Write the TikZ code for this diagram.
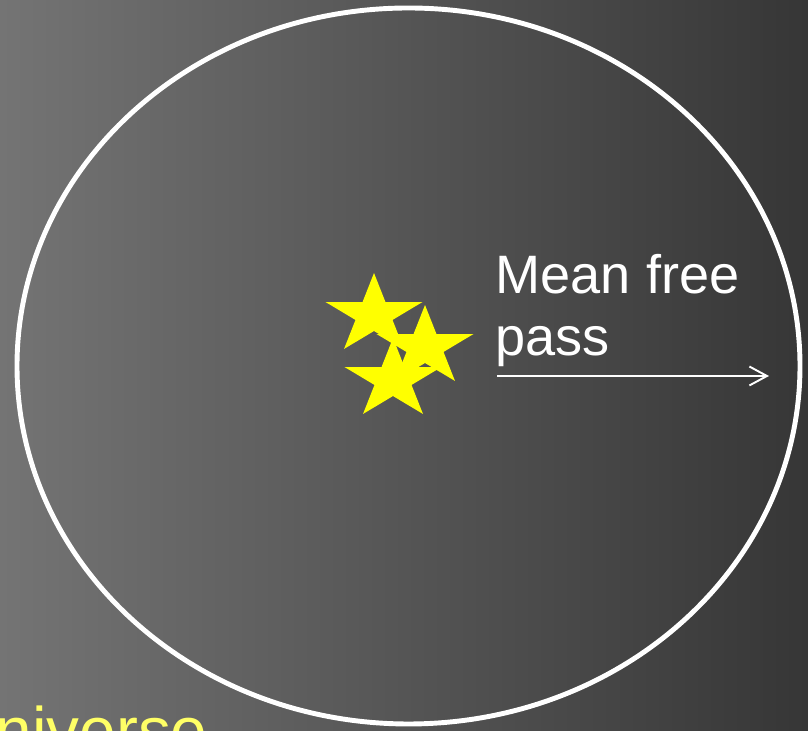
\documentclass[tikz,border=0pt]{standalone}
\usepackage{fontspec}
\setmainfont{Liberation Sans}
\usepackage{tikz}
\usetikzlibrary{arrows.meta,positioning}
\definecolor{skyLeft}{HTML}{747474}
\definecolor{skyMid}{HTML}{626262}
\definecolor{skyRight}{HTML}{363636}
\definecolor{starYellow}{HTML}{FFFF00}
\definecolor{universeYellow}{HTML}{FFFF66}
\tikzset{
  ring/.style={
    draw=white,
    line width=1.4pt
  },
  passLabel/.style={
    text=white,
    align=left,
    inner sep=0pt,
    font=\fontsize{15.4}{17.9}\selectfont
  },
  passArrow/.style={
    -{Straight Barb[length=5pt,width=5.4pt]},
    line width=0.55pt,
    draw=white
  },
  universeLabel/.style={
    text=universeYellow,
    inner sep=0pt,
    font=\fontsize{18.7}{22}\selectfont
  },
  starShape/.pic={
    \fill[starYellow] (90:1) -- (126:0.382) -- (162:1) -- (198:0.382) -- (234:1)
      -- (270:0.382) -- (306:1) -- (342:0.382) -- (18:1) -- (54:0.382) -- cycle;
  }
}

\begin{document}
\begin{tikzpicture}
  \useasboundingbox (0,0) rectangle (8.08,7.31);
  \clip (0,0) rectangle (8.08,7.31);
  \shade[left color=skyLeft,middle color=skyMid,right color=skyRight] (0,0) rectangle (8.08,7.31);
  % the region
  \draw[ring] (4.085,3.65) ellipse [x radius=3.915,y radius=3.58];
  % three stars near the middle
  \pic[xscale=0.51,yscale=0.42] at (3.74,4.16) {starShape};
  \pic[xscale=0.51,yscale=0.42] at (4.25,3.84) {starShape};
  \pic[xscale=0.51,yscale=0.42] at (3.93,3.51) {starShape};
  \node[passLabel,anchor=base west] (meanfree) at (4.95,3.75) {Mean free\\pass};
  \coordinate (passStart) at (4.97,3.55);
  \coordinate (passEnd) at (7.69,3.55);
  \draw[passArrow] (passStart) -- (passEnd);
  \node[universeLabel,anchor=base west] (universe) at (-0.05,-0.23) {niverse};
\end{tikzpicture}
\end{document}
